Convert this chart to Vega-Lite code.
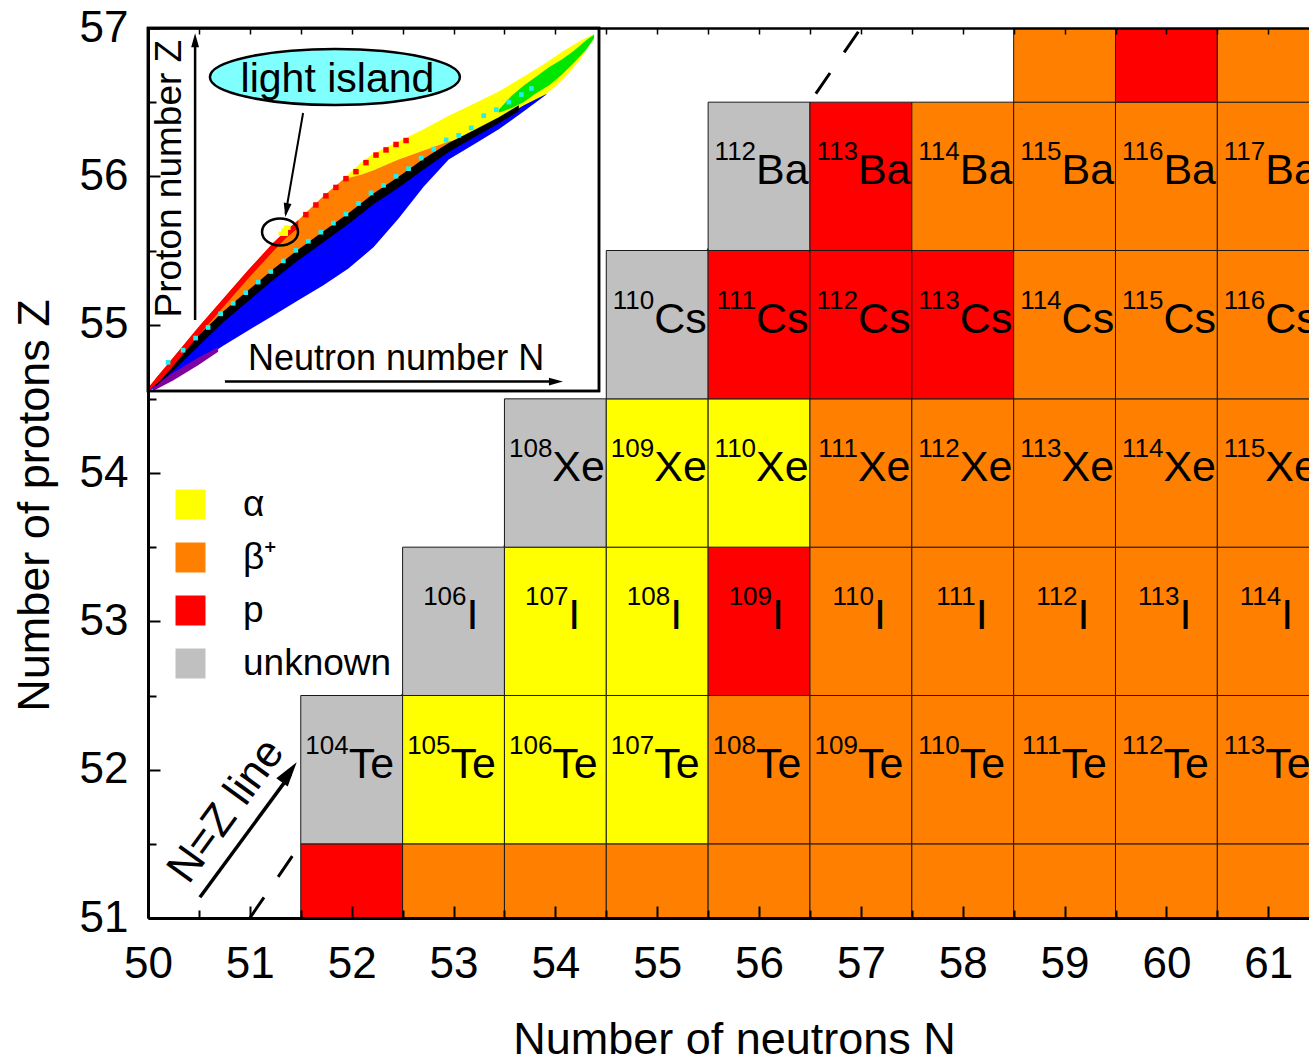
{
"$schema": "https://vega.github.io/schema/vega-lite/v6.json",
"width": 1161,
"height": 890,
"autosize": {"type": "none"},
"padding": {"left": 148, "top": 28, "right": 0, "bottom": 140},
"background": "white",
"config": {
  "font": "Liberation Sans",
  "view": {"stroke": null},
  "axis": {"grid": false, "zindex": 1, "labelColor": "black", "titleColor": "black", "domainColor": "black", "tickColor": "black", "titleFontWeight": "normal", "labelFlush": false, "labelOverlap": false}
},
"datasets": {
  "cells": [
    {"N":52,"Z":51,"d":"p","A":103,"s":"Sb"},{"N":53,"Z":51,"d":"β⁺","A":104,"s":"Sb"},{"N":54,"Z":51,"d":"β⁺","A":105,"s":"Sb"},{"N":55,"Z":51,"d":"β⁺","A":106,"s":"Sb"},{"N":56,"Z":51,"d":"β⁺","A":107,"s":"Sb"},{"N":57,"Z":51,"d":"β⁺","A":108,"s":"Sb"},{"N":58,"Z":51,"d":"β⁺","A":109,"s":"Sb"},{"N":59,"Z":51,"d":"β⁺","A":110,"s":"Sb"},{"N":60,"Z":51,"d":"β⁺","A":111,"s":"Sb"},{"N":61,"Z":51,"d":"β⁺","A":112,"s":"Sb"},
    {"N":52,"Z":52,"d":"unknown","A":104,"s":"Te"},{"N":53,"Z":52,"d":"α","A":105,"s":"Te"},{"N":54,"Z":52,"d":"α","A":106,"s":"Te"},{"N":55,"Z":52,"d":"α","A":107,"s":"Te"},{"N":56,"Z":52,"d":"β⁺","A":108,"s":"Te"},{"N":57,"Z":52,"d":"β⁺","A":109,"s":"Te"},{"N":58,"Z":52,"d":"β⁺","A":110,"s":"Te"},{"N":59,"Z":52,"d":"β⁺","A":111,"s":"Te"},{"N":60,"Z":52,"d":"β⁺","A":112,"s":"Te"},{"N":61,"Z":52,"d":"β⁺","A":113,"s":"Te"},
    {"N":53,"Z":53,"d":"unknown","A":106,"s":"I"},{"N":54,"Z":53,"d":"α","A":107,"s":"I"},{"N":55,"Z":53,"d":"α","A":108,"s":"I"},{"N":56,"Z":53,"d":"p","A":109,"s":"I"},{"N":57,"Z":53,"d":"β⁺","A":110,"s":"I"},{"N":58,"Z":53,"d":"β⁺","A":111,"s":"I"},{"N":59,"Z":53,"d":"β⁺","A":112,"s":"I"},{"N":60,"Z":53,"d":"β⁺","A":113,"s":"I"},{"N":61,"Z":53,"d":"β⁺","A":114,"s":"I"},
    {"N":54,"Z":54,"d":"unknown","A":108,"s":"Xe"},{"N":55,"Z":54,"d":"α","A":109,"s":"Xe"},{"N":56,"Z":54,"d":"α","A":110,"s":"Xe"},{"N":57,"Z":54,"d":"β⁺","A":111,"s":"Xe"},{"N":58,"Z":54,"d":"β⁺","A":112,"s":"Xe"},{"N":59,"Z":54,"d":"β⁺","A":113,"s":"Xe"},{"N":60,"Z":54,"d":"β⁺","A":114,"s":"Xe"},{"N":61,"Z":54,"d":"β⁺","A":115,"s":"Xe"},
    {"N":55,"Z":55,"d":"unknown","A":110,"s":"Cs"},{"N":56,"Z":55,"d":"p","A":111,"s":"Cs"},{"N":57,"Z":55,"d":"p","A":112,"s":"Cs"},{"N":58,"Z":55,"d":"p","A":113,"s":"Cs"},{"N":59,"Z":55,"d":"β⁺","A":114,"s":"Cs"},{"N":60,"Z":55,"d":"β⁺","A":115,"s":"Cs"},{"N":61,"Z":55,"d":"β⁺","A":116,"s":"Cs"},
    {"N":56,"Z":56,"d":"unknown","A":112,"s":"Ba"},{"N":57,"Z":56,"d":"p","A":113,"s":"Ba"},{"N":58,"Z":56,"d":"β⁺","A":114,"s":"Ba"},{"N":59,"Z":56,"d":"β⁺","A":115,"s":"Ba"},{"N":60,"Z":56,"d":"β⁺","A":116,"s":"Ba"},{"N":61,"Z":56,"d":"β⁺","A":117,"s":"Ba"},
    {"N":59,"Z":57,"d":"β⁺","A":116,"s":"La"},{"N":60,"Z":57,"d":"p","A":117,"s":"La"},{"N":61,"Z":57,"d":"β⁺","A":118,"s":"La"}
  ],
  "bands": [
    {"part":"yellow","n":78,"lo":69.5,"hi":70},{"part":"yellow","n":85,"lo":71.5,"hi":75.5},{"part":"yellow","n":90,"lo":73,"hi":78.5},{"part":"yellow","n":100,"lo":76.5,"hi":82.5},{"part":"yellow","n":110,"lo":79.5,"hi":86.5},{"part":"yellow","n":120,"lo":82.5,"hi":91},{"part":"yellow","n":125,"lo":83.5,"hi":93},{"part":"yellow","n":130,"lo":85,"hi":95},{"part":"yellow","n":140,"lo":86.5,"hi":99},{"part":"yellow","n":150,"lo":92.5,"hi":104},{"part":"yellow","n":158,"lo":97.5,"hi":108},{"part":"yellow","n":165,"lo":102.5,"hi":112},{"part":"yellow","n":172,"lo":109,"hi":115.5},{"part":"yellow","n":178,"lo":116.5,"hi":118},
    {"part":"orange","n":0,"lo":0.3,"hi":1},{"part":"orange","n":5,"lo":4,"hi":6},{"part":"orange","n":10,"lo":8.5,"hi":11},{"part":"orange","n":20,"lo":16.5,"hi":21},{"part":"orange","n":30,"lo":24.5,"hi":30.5},{"part":"orange","n":40,"lo":31.5,"hi":40},{"part":"orange","n":50,"lo":38.5,"hi":49},{"part":"orange","n":60,"lo":45,"hi":56.5},{"part":"orange","n":70,"lo":51,"hi":64.5},{"part":"orange","n":78,"lo":55.8,"hi":70},{"part":"orange","n":85,"lo":60,"hi":71.5},{"part":"orange","n":90,"lo":63.5,"hi":73},{"part":"orange","n":100,"lo":69,"hi":76.5},{"part":"orange","n":110,"lo":75,"hi":79.5},{"part":"orange","n":120,"lo":80.5,"hi":82.5},{"part":"orange","n":125,"lo":82.8,"hi":83.5},
    {"part":"blue","n":0,"lo":0,"hi":0.3},{"part":"blue","n":5,"lo":2,"hi":4},{"part":"blue","n":10,"lo":4.5,"hi":8.5},{"part":"blue","n":20,"lo":9.5,"hi":16.5},{"part":"blue","n":30,"lo":15,"hi":24.5},{"part":"blue","n":40,"lo":20,"hi":31.5},{"part":"blue","n":50,"lo":25,"hi":38.5},{"part":"blue","n":60,"lo":30,"hi":45},{"part":"blue","n":70,"lo":35,"hi":51},{"part":"blue","n":80,"lo":40.5,"hi":57},{"part":"blue","n":90,"lo":47.5,"hi":63.5},{"part":"blue","n":100,"lo":57,"hi":69},{"part":"blue","n":110,"lo":67.5,"hi":75},{"part":"blue","n":120,"lo":76.5,"hi":80.5},{"part":"blue","n":130,"lo":81.5,"hi":85},{"part":"blue","n":140,"lo":86.5,"hi":89.5},{"part":"blue","n":150,"lo":92.5,"hi":94.5},{"part":"blue","n":155,"lo":95.5,"hi":96.5},{"part":"blue","n":159,"lo":98,"hi":98.2},
    {"part":"purple","n":2,"lo":0,"hi":1.2},{"part":"purple","n":10,"lo":3.5,"hi":6},{"part":"purple","n":20,"lo":8.5,"hi":11},{"part":"purple","n":28,"lo":13,"hi":14.5},
    {"part":"black","n":3,"lo":1.5,"hi":4},{"part":"black","n":10,"lo":6.7,"hi":10.3},{"part":"black","n":20,"lo":14.7,"hi":18.3},{"part":"black","n":30,"lo":22.7,"hi":26.3},{"part":"black","n":40,"lo":29.7,"hi":33.3},{"part":"black","n":50,"lo":36.7,"hi":40.3},{"part":"black","n":60,"lo":43.2,"hi":46.8},{"part":"black","n":70,"lo":49.2,"hi":52.8},{"part":"black","n":80,"lo":55.2,"hi":58.8},{"part":"black","n":90,"lo":61.7,"hi":65.3},{"part":"black","n":100,"lo":67.2,"hi":70.8},{"part":"black","n":110,"lo":73.2,"hi":76.8},{"part":"black","n":120,"lo":79,"hi":82},{"part":"black","n":130,"lo":83.8,"hi":86.2},{"part":"black","n":140,"lo":88.5,"hi":90.5},{"part":"black","n":148,"lo":92.5,"hi":94.5},
    {"part":"green","n":140,"lo":92,"hi":93},{"part":"green","n":145,"lo":93.5,"hi":97.5},{"part":"green","n":150,"lo":95.5,"hi":101},{"part":"green","n":155,"lo":98.5,"hi":104},{"part":"green","n":160,"lo":101,"hi":107},{"part":"green","n":165,"lo":104.5,"hi":109.5},{"part":"green","n":170,"lo":108.5,"hi":112.5},{"part":"green","n":175,"lo":113,"hi":116},{"part":"green","n":178,"lo":116.5,"hi":117.8},
    {"part":"red","n":0,"lo":0,"hi":1},{"part":"red","n":5,"lo":3.5,"hi":6},{"part":"red","n":10,"lo":8.2,"hi":11},{"part":"red","n":20,"lo":18.2,"hi":21},{"part":"red","n":30,"lo":27.7,"hi":30.5},{"part":"red","n":40,"lo":37.2,"hi":40},{"part":"red","n":50,"lo":46.2,"hi":49},{"part":"red","n":55,"lo":50.5,"hi":53},{"part":"red","n":60,"lo":54,"hi":56.5}
  ],
  "redpts": [
    {"n":63,"z":58.3},{"n":67,"z":61.5},{"n":71,"z":64.5},{"n":75,"z":67.3},{"n":79,"z":70.2},{"n":83,"z":72.5},{"n":87,"z":75.5},{"n":91,"z":78},{"n":95,"z":79.7},{"n":99,"z":81.5},{"n":103,"z":82.8}
  ],
  "cyan": [
    {"n":8,"z":9.5},{"n":14,"z":13.5},{"n":19,"z":17.5},{"n":24,"z":21},{"n":29,"z":25.5},{"n":34,"z":29},{"n":39,"z":32.5},{"n":44,"z":36},{"n":49,"z":39.5},{"n":54,"z":43},{"n":59,"z":46.5},{"n":64,"z":49.5},{"n":69,"z":52.5},{"n":74,"z":55.5},{"n":79,"z":58.5},{"n":84,"z":62},{"n":89,"z":65.5},{"n":94,"z":68},{"n":99,"z":71},{"n":104,"z":73.5},{"n":109,"z":77},{"n":114,"z":80},{"n":119,"z":83},{"n":124,"z":84.5},{"n":129,"z":87},{"n":134,"z":91},{"n":139,"z":93},{"n":144,"z":95.5},{"n":149,"z":98},{"n":153,"z":100}
  ],
  "island": [
    {"n":53,"z":52},{"n":54,"z":52},{"n":55,"z":52},{"n":54,"z":53},{"n":55,"z":53},{"n":55,"z":54},{"n":56,"z":54}
  ]
},
"resolve": {"scale": {"x": "independent", "y": "independent"}, "axis": {"x": "independent", "y": "independent"}},
"layer": [
  {
    "layer": [
      {
        "data": {"values": [{}]},
        "mark": {"type": "rule", "strokeDash": [25, 25], "strokeWidth": 3, "color": "black"},
        "encoding": {
          "x": {"datum": 51, "type": "quantitative", "scale": {"domain": [50, 61.4], "nice": false, "zero": false}, "axis": null},
          "y": {"datum": 51, "type": "quantitative", "scale": {"domain": [51, 57], "nice": false, "zero": false}, "axis": null},
          "x2": {"datum": 57},
          "y2": {"datum": 57}
        }
      },
      {
        "data": {"name": "cells"},
        "mark": {"type": "rect", "width": 101.84, "height": 148.33, "stroke": "#1a1a1a", "strokeWidth": 1, "clip": true, "opacity": 1},
        "encoding": {
          "x": {"field": "N", "type": "quantitative", "scale": {"domain": [50, 61.4], "nice": false, "zero": false}, "axis": null},
          "y": {"field": "Z", "type": "quantitative", "scale": {"domain": [51, 57], "nice": false, "zero": false}, "axis": null},
          "color": {"field": "d", "type": "nominal",
                    "scale": {"domain": ["α", "β⁺", "p", "unknown"], "range": ["#FFFF00", "#FF8000", "#FF0000", "#C0C0C0"]},
                    "legend": {"orient": "none", "legendX": 24, "legendY": 458, "title": null, "symbolType": "square", "symbolSize": 900, "symbolStrokeWidth": 0, "symbolOpacity": 1, "labelFontSize": 37, "labelOffset": 34, "rowPadding": 15, "padding": 0, "labelColor": "black", "direction": "vertical"}}
        }
      },
      {
        "data": {"name": "cells"},
        "transform": [{"filter": "datum.Z >= 52 && datum.Z <= 56 && datum.s != 'I'"}],
        "mark": {"type": "text", "align": "right", "baseline": "alphabetic", "dx": -3, "dy": -16, "fontSize": 26, "color": "black"},
        "encoding": {
          "x": {"field": "N", "type": "quantitative", "scale": {"domain": [50, 61.4], "nice": false, "zero": false}, "axis": null},
          "y": {"field": "Z", "type": "quantitative", "scale": {"domain": [51, 57], "nice": false, "zero": false}, "axis": null},
          "text": {"field": "A", "type": "nominal"}
        }
      },
      {
        "data": {"name": "cells"},
        "transform": [{"filter": "datum.Z >= 52 && datum.Z <= 56 && datum.s != 'I'"}],
        "mark": {"type": "text", "align": "left", "baseline": "alphabetic", "dx": -3, "dy": 8, "fontSize": 43, "color": "black"},
        "encoding": {
          "x": {"field": "N", "type": "quantitative", "scale": {"domain": [50, 61.4], "nice": false, "zero": false}, "axis": null},
          "y": {"field": "Z", "type": "quantitative", "scale": {"domain": [51, 57], "nice": false, "zero": false}, "axis": null},
          "text": {"field": "s", "type": "nominal"}
        }
      },
      {
        "data": {"name": "cells"},
        "transform": [{"filter": "datum.Z == 53"}],
        "mark": {"type": "text", "align": "right", "baseline": "alphabetic", "dx": 13, "dy": -16, "fontSize": 26, "color": "black"},
        "encoding": {
          "x": {"field": "N", "type": "quantitative", "scale": {"domain": [50, 61.4], "nice": false, "zero": false}, "axis": null},
          "y": {"field": "Z", "type": "quantitative", "scale": {"domain": [51, 57], "nice": false, "zero": false}, "axis": null},
          "text": {"field": "A", "type": "nominal"}
        }
      },
      {
        "data": {"name": "cells"},
        "transform": [{"filter": "datum.Z == 53"}],
        "mark": {"type": "text", "align": "left", "baseline": "alphabetic", "dx": 13, "dy": 8, "fontSize": 43, "color": "black"},
        "encoding": {
          "x": {"field": "N", "type": "quantitative", "scale": {"domain": [50, 61.4], "nice": false, "zero": false}, "axis": null},
          "y": {"field": "Z", "type": "quantitative", "scale": {"domain": [51, 57], "nice": false, "zero": false}, "axis": null},
          "text": {"field": "s", "type": "nominal"}
        }
      },
      {
        "data": {"values": [{}]},
        "mark": {"type": "rule", "strokeWidth": 3.5, "color": "black"},
        "encoding": {
          "x": {"datum": 50.51, "type": "quantitative", "scale": {"domain": [50, 61.4], "nice": false, "zero": false}, "axis": null},
          "y": {"datum": 51.14, "type": "quantitative", "scale": {"domain": [51, 57], "nice": false, "zero": false}, "axis": null},
          "x2": {"datum": 51.4},
          "y2": {"datum": 51.97}
        }
      },
      {
        "data": {"values": [{}]},
        "mark": {"type": "point", "shape": "M0,0L0.45,1.6L-0.45,1.6Z", "size": 977, "angle": 36, "filled": true, "opacity": 1, "color": "black", "strokeWidth": 0},
        "encoding": {
          "x": {"datum": 51.46, "type": "quantitative", "scale": {"domain": [50, 61.4], "nice": false, "zero": false}, "axis": null},
          "y": {"datum": 52.05, "type": "quantitative", "scale": {"domain": [51, 57], "nice": false, "zero": false}, "axis": null}
        }
      },
      {
        "data": {"values": [{}]},
        "mark": {"type": "text", "text": "N=Z line", "angle": -54, "fontSize": 44, "align": "center", "baseline": "middle", "color": "black"},
        "encoding": {
          "x": {"datum": 50.77, "type": "quantitative", "scale": {"domain": [50, 61.4], "nice": false, "zero": false}, "axis": null},
          "y": {"datum": 51.72, "type": "quantitative", "scale": {"domain": [51, 57], "nice": false, "zero": false}, "axis": null}
        }
      }
    ]
  },
  {
    "layer": [
      {
        "data": {"values": [{}]},
        "mark": {"type": "rect", "fill": "white", "stroke": "black", "strokeWidth": 2.5},
        "encoding": {
          "x": {"datum": 0, "type": "quantitative", "scale": {"domain": [0, 180], "range": [0, 451], "nice": false, "zero": false}, "axis": null},
          "y": {"datum": 0, "type": "quantitative", "scale": {"domain": [0, 120], "range": [363, 0], "nice": false, "zero": false}, "axis": null},
          "x2": {"datum": 180},
          "y2": {"datum": 120}
        }
      },
      {
        "data": {"name": "bands"},
        "transform": [{"filter": "datum.part == 'yellow'"}],
        "mark": {"type": "area", "color": "#FFFF00", "opacity": 1},
        "encoding": {"x": {"field": "n", "type": "quantitative", "axis": null}, "y": {"field": "lo", "type": "quantitative", "axis": null}, "y2": {"field": "hi"}}
      },
      {
        "data": {"name": "bands"},
        "transform": [{"filter": "datum.part == 'orange'"}],
        "mark": {"type": "area", "color": "#FF8000", "opacity": 1},
        "encoding": {"x": {"field": "n", "type": "quantitative", "axis": null}, "y": {"field": "lo", "type": "quantitative", "axis": null}, "y2": {"field": "hi"}}
      },
      {
        "data": {"name": "bands"},
        "transform": [{"filter": "datum.part == 'blue'"}],
        "mark": {"type": "area", "color": "#0000FF", "opacity": 1},
        "encoding": {"x": {"field": "n", "type": "quantitative", "axis": null}, "y": {"field": "lo", "type": "quantitative", "axis": null}, "y2": {"field": "hi"}}
      },
      {
        "data": {"name": "bands"},
        "transform": [{"filter": "datum.part == 'purple'"}],
        "mark": {"type": "area", "color": "#8000A0", "opacity": 1},
        "encoding": {"x": {"field": "n", "type": "quantitative", "axis": null}, "y": {"field": "lo", "type": "quantitative", "axis": null}, "y2": {"field": "hi"}}
      },
      {
        "data": {"name": "bands"},
        "transform": [{"filter": "datum.part == 'green'"}],
        "mark": {"type": "area", "color": "#00E600", "opacity": 1},
        "encoding": {"x": {"field": "n", "type": "quantitative", "axis": null}, "y": {"field": "lo", "type": "quantitative", "axis": null}, "y2": {"field": "hi"}}
      },
      {
        "data": {"name": "bands"},
        "transform": [{"filter": "datum.part == 'black'"}],
        "mark": {"type": "area", "color": "#000000", "opacity": 1},
        "encoding": {"x": {"field": "n", "type": "quantitative", "axis": null}, "y": {"field": "lo", "type": "quantitative", "axis": null}, "y2": {"field": "hi"}}
      },
      {
        "data": {"name": "bands"},
        "transform": [{"filter": "datum.part == 'red'"}],
        "mark": {"type": "area", "color": "#FF0000", "opacity": 1},
        "encoding": {"x": {"field": "n", "type": "quantitative", "axis": null}, "y": {"field": "lo", "type": "quantitative", "axis": null}, "y2": {"field": "hi"}}
      },
      {
        "data": {"name": "redpts"},
        "mark": {"type": "point", "shape": "square", "size": 30, "filled": true, "opacity": 1, "color": "#FF0000"},
        "encoding": {"x": {"field": "n", "type": "quantitative", "axis": null}, "y": {"field": "z", "type": "quantitative", "axis": null}}
      },
      {
        "data": {"name": "cyan"},
        "mark": {"type": "point", "shape": "square", "size": 22, "filled": true, "opacity": 1, "color": "#20F0F0"},
        "encoding": {"x": {"field": "n", "type": "quantitative", "axis": null}, "y": {"field": "z", "type": "quantitative", "axis": null}}
      },
      {
        "data": {"name": "island"},
        "mark": {"type": "point", "shape": "square", "size": 20, "filled": true, "opacity": 1, "color": "#FFFF00"},
        "encoding": {"x": {"field": "n", "type": "quantitative", "axis": null}, "y": {"field": "z", "type": "quantitative", "axis": null}}
      },
      {
        "data": {"values": [{}]},
        "mark": {"type": "point", "shape": "M-1,0A1,0.224,0,1,0,1,0A1,0.224,0,1,0,-1,0Z", "size": 62500, "filled": true, "opacity": 1, "fill": "#80FFFF", "stroke": "black", "strokeWidth": 2.5},
        "encoding": {"x": {"datum": 74.6, "type": "quantitative", "axis": null}, "y": {"datum": 103.8, "type": "quantitative", "axis": null}}
      },
      {
        "data": {"values": [{}]},
        "mark": {"type": "text", "text": "light island", "fontSize": 41, "align": "center", "baseline": "middle", "color": "black"},
        "encoding": {"x": {"datum": 75.6, "type": "quantitative", "axis": null}, "y": {"datum": 102.8, "type": "quantitative", "axis": null}}
      },
      {
        "data": {"values": [{}]},
        "mark": {"type": "point", "shape": "M-1,0A1,0.75,0,1,0,1,0A1,0.75,0,1,0,-1,0Z", "size": 1296, "filled": false, "opacity": 1, "stroke": "black", "strokeWidth": 2.5},
        "encoding": {"x": {"datum": 52.7, "type": "quantitative", "axis": null}, "y": {"datum": 52.6, "type": "quantitative", "axis": null}}
      },
      {
        "data": {"values": [{}]},
        "mark": {"type": "rule", "strokeWidth": 2, "color": "black"},
        "encoding": {"x": {"datum": 61.9, "type": "quantitative", "axis": null}, "y": {"datum": 91.9, "type": "quantitative", "axis": null}, "x2": {"datum": 54.9}, "y2": {"datum": 58.5}}
      },
      {
        "data": {"values": [{}]},
        "mark": {"type": "point", "shape": "M0,0L0.45,1.6L-0.45,1.6Z", "size": 306, "angle": 189.5, "filled": true, "opacity": 1, "color": "black", "strokeWidth": 0},
        "encoding": {"x": {"datum": 54.8, "type": "quantitative", "axis": null}, "y": {"datum": 57.5, "type": "quantitative", "axis": null}}
      },
      {
        "data": {"values": [{}]},
        "mark": {"type": "rule", "strokeWidth": 2.5, "color": "black"},
        "encoding": {"x": {"datum": 18.8, "type": "quantitative", "axis": null}, "y": {"datum": 23.5, "type": "quantitative", "axis": null}, "x2": {"datum": 18.8}, "y2": {"datum": 116}}
      },
      {
        "data": {"values": [{}]},
        "mark": {"type": "point", "shape": "M0,0L0.45,1.6L-0.45,1.6Z", "size": 306, "angle": 0, "filled": true, "opacity": 1, "color": "black", "strokeWidth": 0},
        "encoding": {"x": {"datum": 18.8, "type": "quantitative", "axis": null}, "y": {"datum": 118.3, "type": "quantitative", "axis": null}}
      },
      {
        "data": {"values": [{}]},
        "mark": {"type": "rule", "strokeWidth": 2.5, "color": "black"},
        "encoding": {"x": {"datum": 30.7, "type": "quantitative", "axis": null}, "y": {"datum": 3.1, "type": "quantitative", "axis": null}, "x2": {"datum": 163}, "y2": {"datum": 3.1}}
      },
      {
        "data": {"values": [{}]},
        "mark": {"type": "point", "shape": "M0,0L0.45,1.6L-0.45,1.6Z", "size": 306, "angle": 90, "filled": true, "opacity": 1, "color": "black", "strokeWidth": 0},
        "encoding": {"x": {"datum": 165.6, "type": "quantitative", "axis": null}, "y": {"datum": 3.1, "type": "quantitative", "axis": null}}
      },
      {
        "data": {"values": [{}]},
        "mark": {"type": "text", "text": "Proton number Z", "angle": 270, "fontSize": 37, "align": "center", "baseline": "alphabetic", "color": "black"},
        "encoding": {"x": {"datum": 13.2, "type": "quantitative", "axis": null}, "y": {"datum": 70.2, "type": "quantitative", "axis": null}}
      },
      {
        "data": {"values": [{}]},
        "mark": {"type": "text", "text": "Neutron number N", "fontSize": 36, "align": "center", "baseline": "alphabetic", "color": "black"},
        "encoding": {"x": {"datum": 99, "type": "quantitative", "axis": null}, "y": {"datum": 6.9, "type": "quantitative", "axis": null}}
      },
      {
        "data": {"values": [{}]},
        "mark": {"type": "rect", "fill": null, "fillOpacity": 0, "stroke": "black", "strokeWidth": 2.5},
        "encoding": {"x": {"datum": 0, "type": "quantitative", "axis": null}, "y": {"datum": 0, "type": "quantitative", "axis": null}, "x2": {"datum": 180}, "y2": {"datum": 120}}
      }
    ]
  },
  {
    "data": {"name": "cells"},
    "mark": {"type": "point", "opacity": 0},
    "encoding": {
      "x": {"field": "N", "type": "quantitative", "scale": {"domain": [50, 61.4], "nice": false, "zero": false},
            "axis": {"orient": "bottom", "values": [50,51,52,53,54,55,56,57,58,59,60,61], "ticks": false, "domain": true, "domainWidth": 3, "labelFontSize": 44, "labelPadding": 24, "labelBaseline": "top", "title": "Number of neutrons N", "titleFontSize": 45, "titleX": 586, "titleY": 135, "titleBaseline": "alphabetic", "titleAlign": "center", "zindex": 2}},
      "y": {"field": "Z", "type": "quantitative", "scale": {"domain": [51, 57], "nice": false, "zero": false},
            "axis": {"orient": "left", "values": [51,52,53,54,55,56,57], "ticks": false, "domain": true, "domainWidth": 3, "labelFontSize": 44, "labelPadding": 20, "title": "Number of protons Z", "titleFontSize": 45, "titleX": -100, "titleY": 477, "titleAngle": 270, "titleBaseline": "alphabetic", "titleAlign": "center", "zindex": 2}}
    }
  },
  {
    "data": {"name": "cells"},
    "mark": {"type": "point", "opacity": 0},
    "encoding": {
      "x": {"field": "N", "type": "quantitative", "scale": {"domain": [50, 61.4], "nice": false, "zero": false},
            "axis": {"orient": "bottom", "values": [50,51,52,53,54,55,56,57,58,59,60,61], "tickSize": -12, "tickWidth": 2, "labels": false, "domain": false, "title": null, "zindex": 2}},
      "y": {"field": "Z", "type": "quantitative", "scale": {"domain": [51, 57], "nice": false, "zero": false},
            "axis": {"orient": "left", "values": [51,52,53,54,55,56,57], "tickSize": -12, "tickWidth": 2, "labels": false, "domain": false, "title": null, "zindex": 2}}
    }
  },
  {
    "data": {"name": "cells"},
    "mark": {"type": "point", "opacity": 0},
    "encoding": {
      "x": {"field": "N", "type": "quantitative", "scale": {"domain": [50, 61.4], "nice": false, "zero": false},
            "axis": {"orient": "bottom", "values": [50.5,51.5,52.5,53.5,54.5,55.5,56.5,57.5,58.5,59.5,60.5], "tickSize": -8, "tickWidth": 2, "labels": false, "domain": false, "title": null, "zindex": 2}},
      "y": {"field": "Z", "type": "quantitative", "scale": {"domain": [51, 57], "nice": false, "zero": false},
            "axis": {"orient": "left", "values": [51.5,52.5,53.5,54.5,55.5,56.5], "tickSize": -8, "tickWidth": 2, "labels": false, "domain": false, "title": null, "zindex": 2}}
    }
  },
  {
    "data": {"name": "cells"},
    "mark": {"type": "point", "opacity": 0},
    "encoding": {
      "x": {"field": "N", "type": "quantitative", "scale": {"domain": [50, 61.4], "nice": false, "zero": false},
            "axis": {"orient": "top", "values": [50,50.5,51,51.5,52,52.5,53,53.5,54,54.5,55,55.5,56,56.5,57,57.5,58,58.5,59,59.5,60,60.5,61], "tickSize": -6, "tickWidth": 1.5, "labels": false, "domain": true, "domainWidth": 2.5, "title": null, "zindex": 2}},
      "y": {"field": "Z", "type": "quantitative", "scale": {"domain": [51, 57], "nice": false, "zero": false}, "axis": null}
    }
  }
]
}
